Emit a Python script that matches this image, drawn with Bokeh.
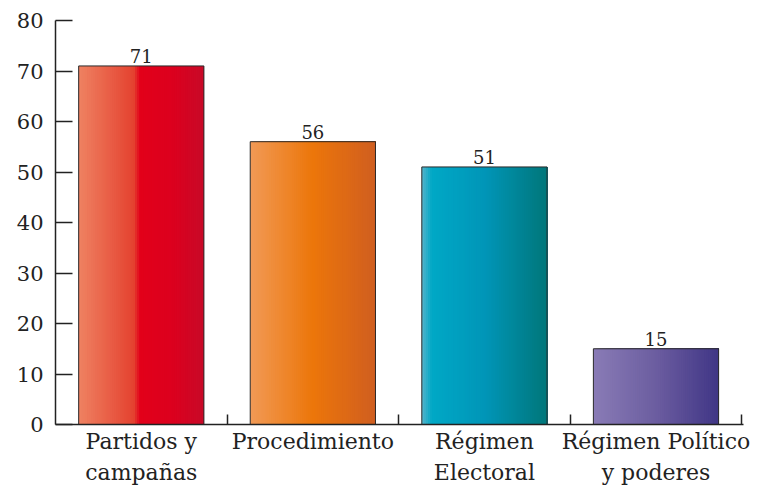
from bokeh.plotting import figure
from bokeh.models import Range1d, FixedTicker, ColumnDataSource
from bokeh.core.properties import value
from bokeh.embed import file_html
from bokeh.resources import INLINE

# ---- data ----
categories = ["Partidos y\ncampañas", "Procedimiento", "Régimen\nElectoral", "Régimen Político\ny poderes"]
values = [71, 56, 51, 15]
y_ticks = [0, 10, 20, 30, 40, 50, 60, 70, 80]

# gradient colour stops per bar (position 0..1 across bar, rgb)
gradients = [
    [(0.0, (239, 130, 98)), (0.44, (228, 66, 48)), (0.49, (226, 0, 26)), (0.75, (220, 0, 30)), (1.0, (200, 10, 40))],
    [(0.0, (241, 154, 86)), (0.5, (236, 118, 10)), (1.0, (208, 94, 32))],
    [(0.0, (88, 180, 202)), (0.08, (0, 168, 198)), (0.5, (0, 150, 184)), (1.0, (0, 118, 122))],
    [(0.0, (137, 124, 182)), (0.5, (108, 93, 160)), (1.0, (64, 54, 134))],
]

FONT = "DejaVu Serif"
BAR_W = 0.73
N_STRIPS = 60


def interp(stops, t):
    for (p0, c0), (p1, c1) in zip(stops[:-1], stops[1:]):
        if p0 <= t <= p1:
            f = 0 if p1 == p0 else (t - p0) / (p1 - p0)
            return "#%02x%02x%02x" % tuple(int(round(a + (b - a) * f)) for a, b in zip(c0, c1))
    return "#%02x%02x%02x" % stops[-1][1]


p = figure(width=757, height=489, output_backend="svg", toolbar_location=None,
           x_range=Range1d(0, 4.01), y_range=Range1d(0, 80),
           min_border_left=55, min_border_top=20, min_border_right=14, min_border_bottom=65)
p.outline_line_color = None
p.grid.visible = False
p.background_fill_color = "white"

centers = [i + 0.5 for i in range(len(values))]

# gradient strips: each strip runs from its start to the bar's right edge,
# drawn left to right so later strips cover earlier ones (no seams)
ql, qr, qt, qc = [], [], [], []
for i, (c, v) in enumerate(zip(centers, values)):
    left = c - BAR_W / 2
    right = c + BAR_W / 2
    for k in range(N_STRIPS):
        ql.append(left + k / N_STRIPS * BAR_W)
        qr.append(right)
        qt.append(v)
        qc.append(interp(gradients[i], (k + 0.5) / N_STRIPS))
p.quad(left=ql, right=qr, top=qt, bottom=0, fill_color=qc, line_color=None)

# outlines
src = ColumnDataSource(dict(x=centers, top=values, lab=[str(v) for v in values]))
p.vbar(x="x", top="top", bottom=0, width=BAR_W, source=src, fill_color=None,
       line_color="#2b2b2b", line_width=1)

# value labels
p.text(x="x", y="top", text="lab", source=src, text_align="center", text_baseline="bottom",
       y_offset=-3, text_font=value(FONT), text_font_size="18px", text_color="#222222")

# y axis
ya = p.yaxis[0]
ya.ticker = FixedTicker(ticks=y_ticks)
ya.major_tick_in = 17
ya.major_tick_out = 0
ya.minor_tick_line_color = None
ya.axis_line_width = 1.5
ya.axis_line_color = "#222222"
ya.major_tick_line_width = 1.5
ya.major_tick_line_color = "#222222"
ya.major_label_text_font = FONT
ya.major_label_text_font_size = "21px"
ya.major_label_text_color = "#222222"
ya.major_label_standoff = 12

# x axis
xa = p.xaxis[0]
xa.ticker = FixedTicker(ticks=centers, minor_ticks=[1, 2, 3, 4])
xa.major_label_overrides = {c: lab for c, lab in zip(centers, categories)}
xa.major_tick_in = 0
xa.major_tick_out = 0
xa.minor_tick_in = 10
xa.minor_tick_out = 0
xa.minor_tick_line_width = 1.5
xa.minor_tick_line_color = "#222222"
xa.axis_line_width = 1.5
xa.axis_line_color = "#222222"
xa.major_label_text_font = FONT
xa.major_label_text_font_size = "22px"
xa.major_label_text_color = "#222222"
xa.major_label_text_line_height = 1.25
xa.major_label_standoff = 4

open("out.html", "w").write(file_html(p, INLINE))
